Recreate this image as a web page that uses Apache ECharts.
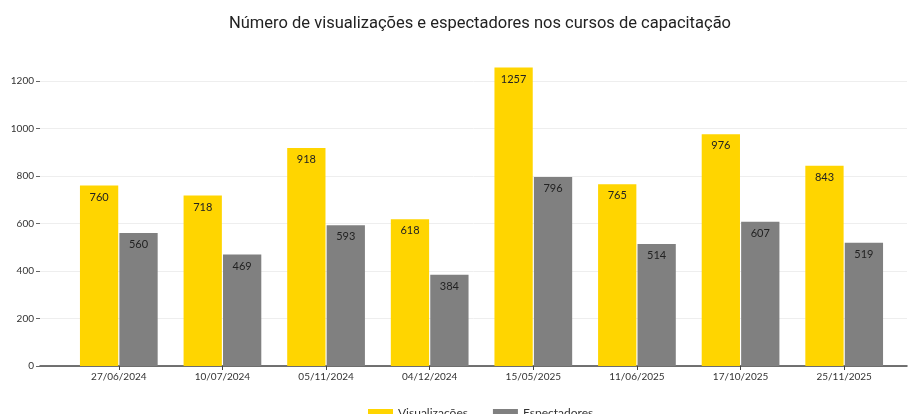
<!DOCTYPE html>
<html>
<head>
<meta charset="utf-8">
<script src="https://cdn.jsdelivr.net/npm/echarts@6/dist/echarts.min.js"></script>
<style>
  html, body { margin: 0; padding: 0; background: #fff; }
  #chart { width: 909px; height: 414px; }
</style>
</head>
<body>
<div id="chart"></div>
<script>
  // dados
  var datas = ["27/06/2024", "10/07/2024", "05/11/2024", "04/12/2024", "15/05/2025", "11/06/2025", "17/10/2025", "25/11/2025"];
  var visualizacoes = [760, 718, 918, 618, 1257, 765, 976, 843];
  var espectadores = [560, 469, 593, 384, 796, 514, 607, 519];

  var chart = echarts.init(document.getElementById('chart'));
  var fonte = 'Lato, "Open Sans", sans-serif';

  var rotulo = {
    show: true,
    position: 'insideTop',
    distance: 6,
    color: '#222',
    fontSize: 11,
    fontFamily: fonte
  };

  var option = {
    animation: false,
    title: {
      text: 'Número de visualizações e espectadores nos cursos de capacitação',
      left: 475,
      textAlign: 'center',
      top: 10,
      textStyle: { fontSize: 16.5, fontWeight: 'normal', color: '#222', fontFamily: 'Roboto, sans-serif' }
    },
    legend: {
      top: 402,
      left: 363,
      itemWidth: 25,
      itemHeight: 8,
      itemGap: 25,
      icon: 'rect',
      textStyle: { fontSize: 12, color: '#333', fontFamily: fonte },
      data: ['Visualizações', 'Espectadores']
    },
    grid: [
      { left: 40, right: 2, top: 81, bottom: 48 },
      { left: 67, right: 13, top: 81, bottom: 48 }
    ],
    xAxis: [
      {
        gridIndex: 0, type: 'value', min: 0, max: 1, show: true,
        axisLine: { show: true, onZero: false, lineStyle: { color: '#444', width: 1.5 } },
        axisTick: { show: false }, axisLabel: { show: false }, splitLine: { show: false }
      },
      {
        gridIndex: 1, type: 'category', data: datas,
        axisLine: { show: false },
        axisTick: { show: true, alignWithLabel: true, length: 4, lineStyle: { color: '#444' } },
        axisLabel: { color: '#333', fontSize: 10, fontFamily: fonte, margin: 6 }
      }
    ],
    yAxis: [
      {
        gridIndex: 0, type: 'value', min: 0, max: 1200, interval: 200,
        axisLine: { show: false },
        axisTick: { show: true, length: 4, lineStyle: { color: '#666' } },
        axisLabel: { color: '#333', fontSize: 10, fontFamily: fonte, margin: 6, formatter: function (v) { return String(v); } },
        splitLine: { lineStyle: { color: '#eeeeee' } }
      },
      {
        gridIndex: 1, type: 'value', min: 0, max: 1200, interval: 200, show: false,
        splitLine: { show: false }
      }
    ],
    series: [
      {
        name: 'Visualizações', type: 'bar', xAxisIndex: 1, yAxisIndex: 1,
        data: visualizacoes, clip: false,
        barGap: '3%', barCategoryGap: '25%',
        itemStyle: { color: '#FFD500' },
        label: rotulo
      },
      {
        name: 'Espectadores', type: 'bar', xAxisIndex: 1, yAxisIndex: 1,
        data: espectadores, clip: false,
        itemStyle: { color: '#808080' },
        label: rotulo
      }
    ]
  };

  chart.setOption(option);
</script>
</body>
</html>
